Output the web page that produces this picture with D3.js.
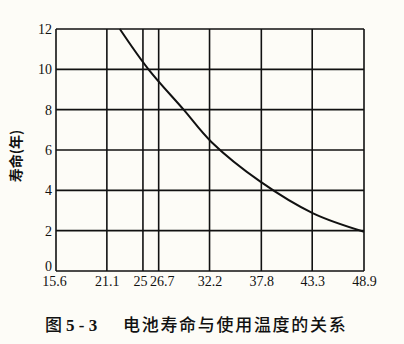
<!DOCTYPE html>
<html><head><meta charset="utf-8">
<script src="https://cdn.jsdelivr.net/npm/d3@7"></script>
<style>
html,body{margin:0;padding:0;background:#fdfcf7;}
svg{display:block;}
</style></head>
<body>
<svg id="chart" width="404" height="344"></svg>
<script>
// Battery life (years) versus operating temperature
const tempTicks = [15.6, 21.1, 25, 26.7, 32.2, 37.8, 43.3, 48.9];
const lifeTicks = [0, 2, 4, 6, 8, 10, 12];
const curveTemp = [22.5, 25.6, 29.4, 32.4, 37.7, 43.4, 48.9];
const curveLife = [12, 10, 8, 6.4, 4.43, 2.86, 1.95];
const yTitle = "寿命(年)";
const captionLead = "图";
const captionNo = "5 - 3";
const captionText = "电池寿命与使用温度的关系";

const svg = d3.select("#chart");
const m = {left: 56, right: 364, top: 29, bottom: 271};

const x = d3.scaleLinear().domain([15.6, 48.9]).range([m.left, m.right]);
const y = d3.scaleLinear().domain([0, 12]).range([m.bottom, m.top]);

const ink = "#111";
const serif = "'Liberation Serif','DejaVu Serif',serif";
const cjk = "'Noto Sans CJK SC',sans-serif";

// Grid: vertical lines at each temperature tick
svg.append("g").selectAll("line").data(tempTicks).join("line")
  .attr("x1", d => x(d)).attr("x2", d => x(d))
  .attr("y1", y(0)).attr("y2", y(12))
  .attr("stroke", ink).attr("stroke-width", 1.6);

// Grid: horizontal lines at each life tick
svg.append("g").selectAll("line").data(lifeTicks).join("line")
  .attr("x1", x(15.6)).attr("x2", x(48.9))
  .attr("y1", d => y(d)).attr("y2", d => y(d))
  .attr("stroke", ink).attr("stroke-width", 1.6);

// Axis labels via d3 axes, with domain and tick lines hidden
const xAxis = svg.append("g")
  .attr("transform", `translate(0,${y(0)})`)
  .call(d3.axisBottom(x).tickValues(tempTicks).tickSize(0).tickPadding(5)
    .tickFormat(d => d3.format("")(d)));
xAxis.select(".domain").remove();
xAxis.selectAll("text")
  .attr("font-family", serif).attr("font-size", 14).attr("fill", ink)
  .attr("dx", d => d === 25 ? -3 : (d === 26.7 ? 3 : (d === 15.6 ? -2 : 0)));

const yAxis = svg.append("g")
  .attr("transform", `translate(${x(15.6)},0)`)
  .call(d3.axisLeft(y).tickValues(lifeTicks).tickSize(0).tickPadding(4));
yAxis.select(".domain").remove();
yAxis.selectAll("text")
  .attr("font-family", serif).attr("font-size", 14).attr("fill", ink)
  .attr("dy", d => d === 0 ? "-0.05em" : "0.32em");

// Life curve
const pts = curveTemp.map((t, i) => [t, curveLife[i]]);
svg.append("path")
  .datum(pts)
  .attr("fill", "none").attr("stroke", ink).attr("stroke-width", 2)
  .attr("d", d3.line().x(d => x(d[0])).y(d => y(d[1])).curve(d3.curveCatmullRom.alpha(0.5)));

// Y-axis title
svg.append("text")
  .attr("transform", `translate(21,156) rotate(-90)`)
  .attr("text-anchor", "middle")
  .attr("font-family", cjk)
  .attr("font-weight", 700).attr("font-size", 14).attr("fill", ink)
  .text(yTitle);

// Caption
const capY = 331;
svg.append("text")
  .attr("x", 45).attr("y", capY)
  .attr("font-family", cjk).attr("font-weight", 500).attr("font-size", 17).attr("fill", ink)
  .text(captionLead);
svg.append("text")
  .attr("x", 66).attr("y", capY)
  .attr("font-family", serif).attr("font-weight", 700).attr("font-size", 17).attr("fill", ink)
  .text(captionNo);
svg.append("text")
  .attr("x", 123).attr("y", capY)
  .attr("font-family", cjk).attr("font-weight", 500).attr("font-size", 17)
  .attr("letter-spacing", 1.7).attr("fill", ink)
  .text(captionText);
</script>
</body></html>
